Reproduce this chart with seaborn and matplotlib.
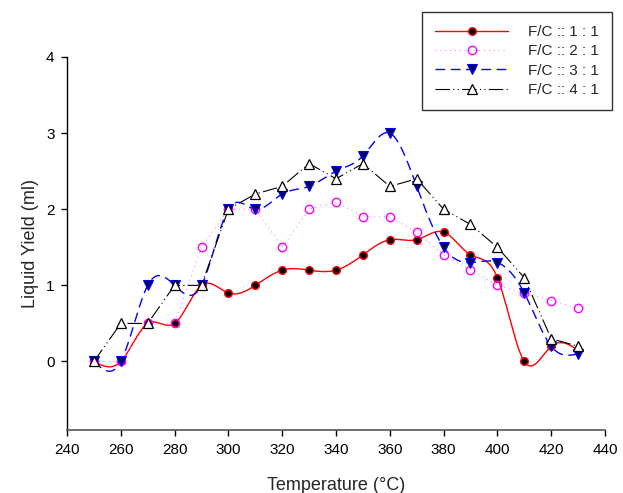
# liquid yield vs temperature for four F/C ratios

import numpy as np
import pandas as pd
import matplotlib
matplotlib.use('Agg')
import matplotlib.pyplot as plt
from matplotlib.lines import Line2D
import seaborn as sns

temperature = [250, 260, 270, 280, 290, 300, 310, 320, 330, 340,
               350, 360, 370, 380, 390, 400, 410, 420, 430]
fc_1_1 = [0.0, 0.0, 0.5, 0.5, 1.0, 0.9, 1.0, 1.2, 1.2, 1.2,
          1.4, 1.6, 1.6, 1.7, 1.4, 1.1, 0.0, 0.2, 0.15]
fc_2_1 = [0.0, 0.0, 0.5, 0.5, 1.5, 2.0, 2.0, 1.5, 2.0, 2.1,
          1.9, 1.9, 1.7, 1.4, 1.2, 1.0, 0.9, 0.8, 0.7]
fc_3_1 = [0.0, 0.0, 1.0, 1.0, 1.0, 2.0, 2.0, 2.2, 2.3, 2.5,
          2.7, 3.0, 2.3, 1.5, 1.3, 1.3, 0.9, 0.2, 0.1]
fc_4_1 = [0.0, 0.5, 0.5, 1.0, 1.0, 2.0, 2.2, 2.3, 2.6, 2.4,
          2.6, 2.3, 2.4, 2.0, 1.8, 1.5, 1.1, 0.3, 0.2]
labels = ['F/C :: 1 : 1', 'F/C :: 2 : 1', 'F/C :: 3 : 1', 'F/C :: 4 : 1']
x_ticks = list(range(240, 441, 20))
y_ticks = [0, 1, 2, 3, 4]


def spline_curve(x, y, n=500):
    # natural cubic spline, only used to draw the smooth line
    x = np.asarray(x, float)
    y = np.asarray(y, float)
    h = np.diff(x)
    m = len(x)
    A = np.zeros((m, m))
    b = np.zeros(m)
    A[0, 0] = 1
    A[-1, -1] = 1
    for i in range(1, m - 1):
        A[i, i - 1] = h[i - 1]
        A[i, i] = 2 * (h[i - 1] + h[i])
        A[i, i + 1] = h[i]
        b[i] = 6 * ((y[i + 1] - y[i]) / h[i] - (y[i] - y[i - 1]) / h[i - 1])
    M = np.linalg.solve(A, b)
    xs = np.linspace(x[0], x[-1], n)
    idx = np.clip(np.searchsorted(x, xs) - 1, 0, m - 2)
    x0, x1 = x[idx], x[idx + 1]
    hh = x1 - x0
    t0 = x1 - xs
    t1 = xs - x0
    ys = (M[idx] * t0 ** 3 + M[idx + 1] * t1 ** 3) / (6 * hh) \
        + (y[idx] / hh - M[idx] * hh / 6) * t0 \
        + (y[idx + 1] / hh - M[idx + 1] * hh / 6) * t1
    return xs, ys


sns.set_style('ticks')
plt.rcParams['font.family'] = ['Liberation Sans', 'DejaVu Sans']

fig = plt.figure(figsize=(6.23, 4.93), dpi=100)
ax = fig.add_axes([67 / 623, 1 - 430 / 493, 538 / 623, 373 / 493])

df = pd.DataFrame({'temp': temperature, 'a': fc_1_1, 'b': fc_2_1,
                   'c': fc_3_1, 'd': fc_4_1})

pink_ls = (0, (1, 4))
blue_ls = (0, (7, 4))
black_ls = (0, (13, 3, 1, 3, 1, 3))

# lines
xs, ys = spline_curve(df['temp'], df['a'])
sns.lineplot(x=xs, y=ys, ax=ax, color='#FF0000', lw=1.0, zorder=2)
sns.lineplot(data=df, x='temp', y='b', ax=ax, color='#FF66FF', lw=0.7,
             linestyle=pink_ls, zorder=2)
xs, ys = spline_curve(df['temp'], df['c'])
sns.lineplot(x=xs, y=ys, ax=ax, color='#0000FF', lw=1.0,
             linestyle=blue_ls, zorder=2)
sns.lineplot(data=df, x='temp', y='d', ax=ax, color='black', lw=0.8,
             linestyle=black_ls, zorder=2)

# markers
styles = [
    dict(marker='o', ms=5.5, mfc='black', mec='#FF0000', mew=1.0, color='#FF0000', ls='-', lw=1.0),
    dict(marker='o', ms=6, mfc='none', mec='#FF00FF', mew=1.0, color='#FF66FF', ls=pink_ls, lw=0.7),
    dict(marker='v', ms=6.5, mfc='#000066', mec='#0000FF', mew=0.8, color='#0000FF', ls=blue_ls, lw=1.0),
    dict(marker='^', ms=6.5, mfc='white', mec='black', mew=0.9, color='black', ls=black_ls, lw=0.8),
]
for col, st in zip(['a', 'b', 'c', 'd'], styles):
    ax.plot(df['temp'], df[col], ls='none', marker=st['marker'], ms=st['ms'],
            mfc=st['mfc'], mec=st['mec'], mew=st['mew'], zorder=3)

ax.set_xlim(240, 440)
ax.set_ylim(-0.9, 4)
ax.set_xticks(x_ticks)
ax.set_yticks(y_ticks)
ax.tick_params(axis='both', direction='out', length=4, width=1, labelsize=11,
               colors='black', pad=5)
ax.set_xlabel('Temperature (°C)', fontsize=13, labelpad=15)
ax.set_ylabel('Liquid Yield (ml)', fontsize=13, labelpad=5)
for side in ['top', 'right']:
    ax.spines[side].set_visible(False)
ax.spines['left'].set_color('black')
ax.spines['bottom'].set_color('#555555')
ax.spines['left'].set_linewidth(1)
ax.spines['bottom'].set_linewidth(1.2)

handles = [Line2D([], [], **st) for st in styles]
leg = fig.legend(handles, labels, loc='upper right',
                 bbox_to_anchor=(612 / 623, 1 - 12 / 493),
                 bbox_transform=fig.transFigure, frameon=True, fancybox=False,
                 fontsize=11, handlelength=4.8, handletextpad=1.3,
                 labelspacing=0.35, borderpad=0.85, borderaxespad=0)
leg.get_frame().set_edgecolor('black')
leg.get_frame().set_linewidth(1.0)

fig.savefig('out.png', dpi=100)
